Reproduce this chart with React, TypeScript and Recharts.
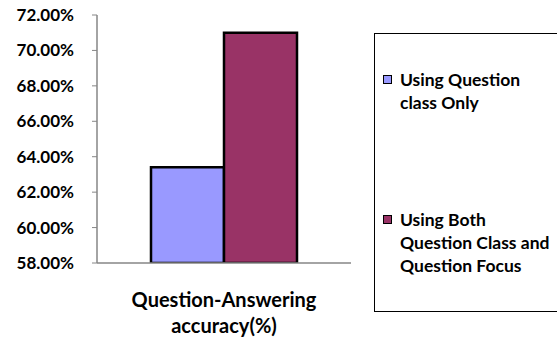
import React from 'react';
import { BarChart, Bar, XAxis, YAxis } from 'recharts';

const categories = ['Question-Answering accuracy(%)'];
const seriesNames = ['Using Question class Only', 'Using Both Question Class and Question Focus'];
const seriesValues = [0.634, 0.71];
const seriesColors = ['#9999ff', '#993366'];
const yTicks = [0.58, 0.6, 0.62, 0.64, 0.66, 0.68, 0.7, 0.72];

const data = categories.map((c) => ({ name: c, s0: seriesValues[0], s1: seriesValues[1] }));

const FONT = 'Lato, "Open Sans", sans-serif';

function CategoryTick(props: any) {
  const { x, y } = props;
  const lines = ['Question-Answering', 'accuracy(%)'];
  return (
    <text x={x} y={y + 36} textAnchor="middle" fontFamily={FONT} fontWeight={700} fontSize={20} fill="#000">
      {lines.map((l, i) => (
        <tspan key={i} x={x} dy={i === 0 ? 0 : 26}>{l}</tspan>
      ))}
    </text>
  );
}

function LegendBox() {
  const item = (label: string[], color: string, top: number) => (
    <div style={{ position: 'absolute', left: 8, top, fontFamily: FONT, fontWeight: 700, fontSize: 17.5, lineHeight: '23px', color: '#000', whiteSpace: 'nowrap' }}>
      <span style={{ position: 'absolute', left: 0, top: 7, width: 7, height: 7, background: color, border: '1.5px solid #000' }} />
      <div style={{ marginLeft: 17 }}>
        {label.map((l, i) => <div key={i}>{l}</div>)}
      </div>
    </div>
  );
  return (
    <div style={{ position: 'absolute', left: 374, top: 33, width: 190, height: 279, border: '1px solid #000', background: '#fff', boxSizing: 'border-box' }}>
      {item(['Using Question', 'class Only'], seriesColors[0], 34)}
      {item(['Using Both', 'Question Class and', 'Question Focus'], seriesColors[1], 174)}
    </div>
  );
}

export default function App() {
  return (
    <div style={{ position: 'absolute', left: 0, top: 0, width: 557, height: 338, background: '#fff', overflow: 'hidden' }}>
      <style>{'body{margin:0}'}</style>
      <BarChart width={557} height={338} data={data} margin={{ top: 15, right: 206, bottom: 45, left: 0 }}
        barCategoryGap={54} barGap={0}>
        <XAxis dataKey="name" height={30} tick={<CategoryTick />} tickLine={false} axisLine={{ stroke: '#868686', strokeWidth: 1.5 }} interval={0} />
        <YAxis domain={[0.58, 0.72]} ticks={yTicks} width={97} allowDataOverflow
          tickFormatter={(v: number) => (v * 100).toFixed(2) + '%'}
          tick={{ fontFamily: FONT, fontWeight: 700, fontSize: 17, fill: '#000', dx: -16 }}
          tickLine={{ stroke: '#868686' }} tickSize={5} axisLine={{ stroke: '#868686', strokeWidth: 1.5 }} />
        <Bar dataKey="s0" name={seriesNames[0]} fill={seriesColors[0]} stroke="#000" strokeWidth={2.5} isAnimationActive={false} />
        <Bar dataKey="s1" name={seriesNames[1]} fill={seriesColors[1]} stroke="#000" strokeWidth={2.5} isAnimationActive={false} />
      </BarChart>
      <LegendBox />
    </div>
  );
}
